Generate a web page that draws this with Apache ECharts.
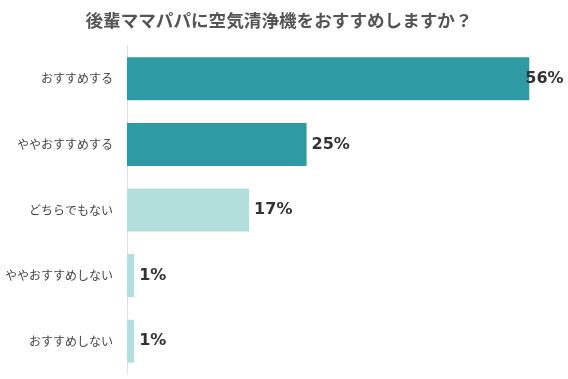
<!DOCTYPE html>
<html><head><meta charset="utf-8">
<script src="https://cdn.jsdelivr.net/npm/echarts@6/dist/echarts.min.js"></script>
<style>html,body{margin:0;padding:0;background:#fff}#c{width:568px;height:379px}</style>
</head><body><div id="c"></div>
<script>
const titleText = '後輩ママパパに空気清浄機をおすすめしますか？';
const categories = ['おすすめする','ややおすすめする','どちらでもない','ややおすすめしない','おすすめしない'];
const values = [56, 25, 17, 1, 1];
const barColors = ['#2E9AA4','#2E9AA4','#B2DFDC','#B2DFDC','#B2DFDC'];

const chart = echarts.init(document.getElementById('c'), null, {renderer:'canvas'});
const font = '"Noto Sans CJK JP","Noto Sans",sans-serif';
chart.setOption({
  animation:false,
  title:{text:titleText,left:274,textAlign:'center',top:7,
    textStyle:{fontFamily:font,fontSize:17.6,fontWeight:'bold',color:'#555'}},
  grid:{left:127,right:10,top:46,bottom:5,containLabel:false},
  xAxis:{type:'value',min:0,max:60,show:false},
  yAxis:{type:'category',data:categories,inverse:true,
    axisLine:{show:true,lineStyle:{color:'#e0e0e0',width:1}},
    axisTick:{show:false},
    axisLabel:{fontFamily:font,fontSize:12,color:'#444',margin:14}},
  series:[{type:'bar',barWidth:43,
    data:values.map((v,i)=>({value:v,itemStyle:{color:barColors[i]},
      label:i===0?{offset:[-9,0]}:{}})),
    label:{show:true,position:'right',distance:5,formatter:'{c}%',
      fontFamily:'"DejaVu Sans",sans-serif',fontSize:16,fontWeight:'bold',color:'#333'}}]
});
</script></body></html>
